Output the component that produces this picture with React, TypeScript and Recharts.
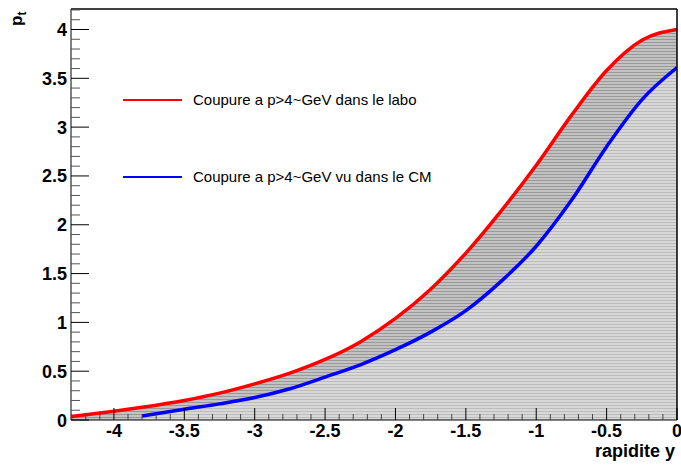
import { ComposedChart, Area, XAxis, YAxis, ReferenceLine } from "recharts";

// rapidity grid shared by both curves
const RAPIDITY = [-4.3, -4.0, -3.8, -3.5, -3.25, -3.0, -2.75, -2.5, -2.25, -2.0, -1.75, -1.5, -1.25, -1.0, -0.75, -0.5, -0.25, 0];
// pt cut seen in the lab frame
const PT_LABO = [0.035, 0.09, 0.13, 0.2, 0.275, 0.37, 0.48, 0.62, 0.8, 1.04, 1.34, 1.71, 2.14, 2.61, 3.12, 3.58, 3.89, 4.0];
// pt cut seen in the CM frame (curve starts at -3.8)
const PT_CM = [null, null, 0.04, 0.11, 0.165, 0.23, 0.32, 0.44, 0.565, 0.72, 0.9, 1.12, 1.42, 1.78, 2.25, 2.8, 3.28, 3.61];

const X_TICKS = [
  -4.3, -4.2, -4.1, -4, -3.9, -3.8, -3.7, -3.6, -3.5, -3.4, -3.3, -3.2, -3.1, -3, -2.9, -2.8, -2.7, -2.6, -2.5, -2.4, -2.3, -2.2,
  -2.1, -2, -1.9, -1.8, -1.7, -1.6, -1.5, -1.4, -1.3, -1.2, -1.1, -1, -0.9, -0.8, -0.7, -0.6, -0.5, -0.4, -0.3, -0.2, -0.1, 0,
];
const Y_TICKS = [
  0, 0.1, 0.2, 0.3, 0.4, 0.5, 0.6, 0.7, 0.8, 0.9, 1, 1.1, 1.2, 1.3, 1.4, 1.5, 1.6, 1.7, 1.8, 1.9, 2, 2.1, 2.2, 2.3, 2.4, 2.5,
  2.6, 2.7, 2.8, 2.9, 3, 3.1, 3.2, 3.3, 3.4, 3.5, 3.6, 3.7, 3.8, 3.9, 4, 4.1, 4.2,
];
const X_DOMAIN = [-4.305, 0];
const Y_DOMAIN = [0, 4.21];

const LEGEND = [
  { label: "Coupure a p>4~GeV dans le labo", color: "#ff0000" },
  { label: "Coupure a p>4~GeV vu dans le CM", color: "#0000ff" },
];

const data = RAPIDITY.map((y, i) => ({ y, labo: PT_LABO[i], cm: PT_CM[i] }));

const W = 681;
const H = 466;
const PLOT_LEFT = 71;
const PLOT_BOTTOM = 420;
const FONT = '"Liberation Sans", Arial, Helvetica, sans-serif';

const isMajor = (v: number) => Math.abs(v * 2 - Math.round(v * 2)) < 1e-6;
const fmt = (v: number) => (Math.abs(v) < 1e-9 ? "0" : String(v));

function XTick(props: any) {
  const { x, payload } = props;
  const v = payload.value;
  const major = isMajor(v);
  return (
    <g>
      <line x1={x} x2={x} y1={PLOT_BOTTOM} y2={PLOT_BOTTOM - (major ? 12 : 6)} stroke={major ? "#000" : "#444"} />
      {major && (
        <text x={x} y={437} textAnchor="middle" fontFamily={FONT} fontWeight="bold" fontSize={18} fill="#000">
          {fmt(v)}
        </text>
      )}
    </g>
  );
}

function YTick(props: any) {
  const { y, payload } = props;
  const v = payload.value;
  const major = isMajor(v);
  return (
    <g>
      <line x1={PLOT_LEFT} x2={PLOT_LEFT + (major ? 18 : 9)} y1={y} y2={y} stroke={major ? "#000" : "#555"} />
      {major && (
        <text x={67} y={y + 6.5} textAnchor="end" fontFamily={FONT} fontWeight="bold" fontSize={18} fill="#000">
          {fmt(v)}
        </text>
      )}
    </g>
  );
}

export default function App() {
  return (
    <div style={{ position: "absolute", left: 0, top: 0, width: W, height: H, background: "#fff" }}>
      <svg width={0} height={0} style={{ position: "absolute" }}>
        <defs>
          <pattern id="hatchDark" patternUnits="userSpaceOnUse" width={4} height={3}>
            <rect width={4} height={3} fill="#c2c2c2" />
            <rect width={4} height={1} fill="#999999" />
          </pattern>
          <pattern id="hatchLight" patternUnits="userSpaceOnUse" width={4} height={3}>
            <rect width={4} height={3} fill="#d8d8d8" />
            <rect width={4} height={1} fill="#bcbcbc" />
          </pattern>
        </defs>
      </svg>

      <ComposedChart width={W} height={H} data={data} margin={{ top: 9, right: 4, bottom: 0, left: 0 }}>
        <XAxis
          type="number"
          dataKey="y"
          domain={X_DOMAIN}
          ticks={X_TICKS}
          interval={0}
          tick={<XTick />}
          tickLine={false}
          axisLine={{ stroke: "#000" }}
          height={46}
          allowDataOverflow
        />
        <YAxis
          type="number"
          domain={Y_DOMAIN}
          ticks={Y_TICKS}
          interval={0}
          tick={<YTick />}
          tickLine={false}
          axisLine={{ stroke: "#000" }}
          width={71}
          allowDataOverflow
        />
        <ReferenceLine y={4.21} stroke="#000" strokeWidth={1.5} />
        <ReferenceLine x={0} stroke="#000" strokeWidth={1.5} />
        <Area
          type="monotone"
          dataKey="labo"
          stroke="#ff0000"
          strokeWidth={3.5}
          fill="url(#hatchDark)"
          fillOpacity={1}
          baseValue={0}
          dot={false}
          activeDot={false}
          isAnimationActive={false}
        />
        <Area
          type="monotone"
          dataKey="cm"
          stroke="#0000ff"
          strokeWidth={3.5}
          fill="url(#hatchLight)"
          fillOpacity={1}
          baseValue={0}
          dot={false}
          activeDot={false}
          isAnimationActive={false}
        />
      </ComposedChart>

      <svg width={W} height={H} style={{ position: "absolute", left: 0, top: 0, pointerEvents: "none" }}>
        {LEGEND.map((item, i) => {
          const cy = 100 + i * 77;
          return (
            <g key={item.label}>
              <line x1={123} x2={182} y1={cy} y2={cy} stroke={item.color} strokeWidth={2} />
              <text x={193} y={cy + 5} fontFamily={FONT} fontSize={15} fill="#000">
                {item.label}
              </text>
            </g>
          );
        })}
        <text x={22} y={26} transform="rotate(-90 22 26)" fontFamily={FONT} fontWeight="bold" fontSize={17} fill="#000">
          p
          <tspan fontSize={12} dy={4}>
            t
          </tspan>
        </text>
        <text x={675} y={457} textAnchor="end" fontFamily={FONT} fontWeight="bold" fontSize={18} fill="#000">
          rapidite y
        </text>
      </svg>
    </div>
  );
}
